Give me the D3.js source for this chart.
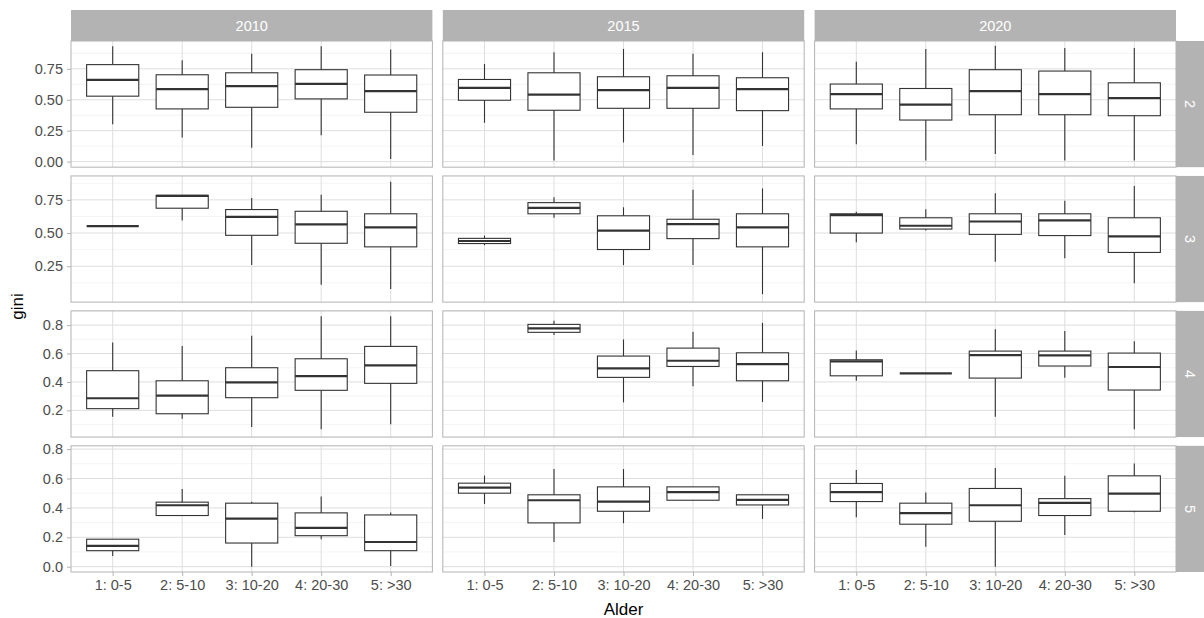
<!DOCTYPE html>
<html lang="en">
<head>
    <meta charset="UTF-8">
    <title>gini by Alder</title>
    <style>
        body { margin: 0; background: #fff; }
        text { font-family: "Liberation Sans", Arial, sans-serif; }
    </style>
</head>
<body>
<div id="chart"></div>

<script src="https://d3js.org/d3.v7.min.js"></script>

<script>
    // facets
    var years = ["2010", "2015", "2020"];
    var groups = ["2", "3", "4", "5"];
    var ages = ["1: 0-5", "2: 5-10", "3: 10-20", "4: 20-30", "5: >30"];

    // y scale per row (free scales), ticks and label format
    var yDomains = [[-0.045, 0.975], [-0.02, 0.93], [0.012, 0.9], [-0.036, 0.822]];
    var yTicks = [[0, 0.25, 0.5, 0.75], [0.25, 0.5, 0.75], [0.2, 0.4, 0.6, 0.8], [0, 0.2, 0.4, 0.6, 0.8]];
    var yFormats = [".2f", ".2f", ".1f", ".1f"];

    // box stats per age group: [lower whisker, q1, median, q3, upper whisker]
    var box2010 = [
        [[0.301, 0.529, 0.661, 0.784, 0.932], [0.195, 0.426, 0.586, 0.702, 0.819], [0.111, 0.439, 0.610, 0.718, 0.871], [0.214, 0.507, 0.629, 0.743, 0.932], [0.021, 0.399, 0.570, 0.700, 0.906]],
        [[0.552, 0.552, 0.552, 0.552, 0.552], [0.595, 0.687, 0.780, 0.784, 0.784], [0.259, 0.483, 0.622, 0.677, 0.764], [0.110, 0.423, 0.565, 0.664, 0.789], [0.078, 0.396, 0.543, 0.645, 0.886]],
        [[0.155, 0.212, 0.285, 0.479, 0.678], [0.141, 0.176, 0.303, 0.408, 0.652], [0.083, 0.289, 0.397, 0.500, 0.725], [0.067, 0.341, 0.441, 0.563, 0.863], [0.102, 0.390, 0.517, 0.650, 0.863]],
        [[0.073, 0.109, 0.141, 0.187, 0.187], [0.348, 0.348, 0.418, 0.439, 0.529], [0.000, 0.161, 0.327, 0.432, 0.441], [0.187, 0.211, 0.264, 0.366, 0.477], [0.005, 0.109, 0.168, 0.352, 0.368]]
    ];
    var box2015 = [
        [[0.314, 0.496, 0.596, 0.664, 0.789], [0.008, 0.415, 0.542, 0.718, 0.884], [0.155, 0.431, 0.578, 0.686, 0.911], [0.054, 0.431, 0.596, 0.694, 0.871], [0.127, 0.412, 0.586, 0.678, 0.884]],
        [[0.408, 0.421, 0.440, 0.460, 0.481], [0.615, 0.645, 0.690, 0.729, 0.769], [0.259, 0.376, 0.518, 0.630, 0.694], [0.259, 0.458, 0.567, 0.604, 0.826], [0.040, 0.396, 0.543, 0.645, 0.836]],
        [null, [0.730, 0.749, 0.777, 0.805, 0.830], [0.256, 0.432, 0.495, 0.582, 0.699], [0.369, 0.509, 0.549, 0.638, 0.753], [0.259, 0.408, 0.526, 0.605, 0.816]],
        [[0.427, 0.500, 0.538, 0.568, 0.620], [0.168, 0.298, 0.452, 0.489, 0.664], [0.296, 0.377, 0.443, 0.543, 0.664], [0.452, 0.452, 0.507, 0.543, 0.543], [0.325, 0.420, 0.455, 0.489, 0.489]]
    ];
    var box2020 = [
        [[0.141, 0.426, 0.545, 0.627, 0.808], [0.008, 0.336, 0.461, 0.591, 0.911], [0.062, 0.379, 0.570, 0.743, 0.936], [0.008, 0.379, 0.545, 0.732, 0.919], [0.008, 0.371, 0.513, 0.637, 0.919]],
        [[0.431, 0.500, 0.635, 0.645, 0.660], [0.520, 0.530, 0.555, 0.615, 0.679], [0.284, 0.490, 0.587, 0.645, 0.799], [0.311, 0.481, 0.595, 0.645, 0.744], [0.122, 0.354, 0.475, 0.615, 0.854]],
        [[0.408, 0.443, 0.545, 0.556, 0.622], [0.460, 0.460, 0.460, 0.460, 0.460], [0.155, 0.427, 0.589, 0.617, 0.770], [0.429, 0.512, 0.587, 0.617, 0.758], [0.067, 0.343, 0.505, 0.603, 0.687]],
        [[0.337, 0.443, 0.507, 0.566, 0.657], [0.136, 0.289, 0.364, 0.432, 0.504], [0.000, 0.309, 0.418, 0.532, 0.671], [0.216, 0.348, 0.434, 0.463, 0.618], [0.370, 0.377, 0.497, 0.618, 0.702]]
    ];
    var boxes = [box2010, box2015, box2020];

    var width = 1204, height = 618;
    var margin = {top: 41, right: 28, bottom: 46, left: 71};
    var stripH = 31;

    var svg = d3.select("#chart").append("svg")
        .attr("width", width)
        .attr("height", height);

    // panel positions
    var colScale = d3.scaleBand().domain(years)
        .range([margin.left, width - margin.right]).paddingInner(0.028);
    var rowScale = d3.scaleBand().domain(groups)
        .range([margin.top, height - margin.bottom]).paddingInner(0.065);
    var pw = colScale.bandwidth(), ph = rowScale.bandwidth();

    var x = d3.scalePoint().domain(ages).range([0, pw]).padding(0.6);
    var boxW = x.step() * 0.75;

    // top strips
    years.forEach(function (yr) {
        var g = svg.append("g").attr("transform", "translate(" + colScale(yr) + "," + (margin.top - stripH) + ")");
        g.append("rect").attr("width", pw).attr("height", stripH).attr("fill", "#b3b3b3");
        g.append("text").attr("x", pw / 2).attr("y", stripH / 2)
            .attr("text-anchor", "middle").attr("dominant-baseline", "central")
            .attr("font-size", 14.5).attr("fill", "#ffffff").text(yr);
    });

    // right strips
    groups.forEach(function (gr) {
        var g = svg.append("g").attr("transform", "translate(" + (width - margin.right) + "," + rowScale(gr) + ")");
        g.append("rect").attr("width", margin.right).attr("height", ph).attr("fill", "#b3b3b3");
        g.append("text").attr("transform", "translate(" + (margin.right / 2) + "," + (ph / 2) + ") rotate(90)")
            .attr("text-anchor", "middle").attr("dominant-baseline", "central")
            .attr("font-size", 14.5).attr("fill", "#ffffff").text(gr);
    });

    groups.forEach(function (gr, ri) {
        var y = d3.scaleLinear().domain(yDomains[ri]).range([ph, 0]);
        var ticks = yTicks[ri];
        var step = ticks[1] - ticks[0];
        var minor = [];
        for (var t = ticks[0] - step / 2; t <= yDomains[ri][1]; t += step) {
            if (t >= yDomains[ri][0]) minor.push(t);
        }

        years.forEach(function (yr, ci) {
            var p = svg.append("g").attr("transform", "translate(" + colScale(yr) + "," + rowScale(gr) + ")");
            p.append("rect").attr("width", pw).attr("height", ph).attr("fill", "#fff");

            // grid
            p.selectAll(".minor").data(minor).enter().append("line")
                .attr("x1", 0).attr("x2", pw)
                .attr("y1", function (d) { return y(d); }).attr("y2", function (d) { return y(d); })
                .attr("stroke", "#ececec").attr("stroke-width", 0.6);
            p.selectAll(".major").data(ticks).enter().append("line")
                .attr("x1", 0).attr("x2", pw)
                .attr("y1", function (d) { return y(d); }).attr("y2", function (d) { return y(d); })
                .attr("stroke", "#dedede").attr("stroke-width", 1);
            p.selectAll(".vmajor").data(ages).enter().append("line")
                .attr("x1", function (d) { return x(d); }).attr("x2", function (d) { return x(d); })
                .attr("y1", 0).attr("y2", ph)
                .attr("stroke", "#dedede").attr("stroke-width", 1);

            // boxplots
            var data = boxes[ci][ri].map(function (s, i) { return {age: ages[i], s: s}; })
                .filter(function (d) { return d.s; });
            var b = p.selectAll(".box").data(data).enter().append("g");
            b.append("line")
                .attr("x1", function (d) { return x(d.age); }).attr("x2", function (d) { return x(d.age); })
                .attr("y1", function (d) { return y(d.s[0]); }).attr("y2", function (d) { return y(d.s[4]); })
                .attr("stroke", "#333333").attr("stroke-width", 1.1);
            b.append("rect")
                .attr("x", function (d) { return x(d.age) - boxW / 2; })
                .attr("width", boxW)
                .attr("y", function (d) { return y(d.s[3]); })
                .attr("height", function (d) { return y(d.s[1]) - y(d.s[3]); })
                .attr("fill", "#fff").attr("stroke", "#333333").attr("stroke-width", 1.1);
            b.append("line")
                .attr("x1", function (d) { return x(d.age) - boxW / 2; })
                .attr("x2", function (d) { return x(d.age) + boxW / 2; })
                .attr("y1", function (d) { return y(d.s[2]); }).attr("y2", function (d) { return y(d.s[2]); })
                .attr("stroke", "#333333").attr("stroke-width", 2.2);

            // border
            p.append("rect").attr("width", pw).attr("height", ph)
                .attr("fill", "none").attr("stroke", "#b3b3b3").attr("stroke-width", 1);

            // y axis on first column
            if (ci === 0) {
                var ax = p.append("g").call(d3.axisLeft(y).tickValues(ticks).tickFormat(d3.format(yFormats[ri])).tickSize(4).tickPadding(4));
                ax.select(".domain").remove();
                ax.selectAll("line").attr("stroke", "#b3b3b3");
                ax.selectAll("text").attr("font-size", 14.5).attr("fill", "#4d4d4d")
                    .attr("font-family", "Liberation Sans, Arial, sans-serif");
            }
            // x axis on last row
            if (ri === groups.length - 1) {
                var bx = p.append("g").attr("transform", "translate(0," + ph + ")")
                    .call(d3.axisBottom(x).tickSize(4).tickPadding(4));
                bx.select(".domain").remove();
                bx.selectAll("line").attr("stroke", "#b3b3b3");
                bx.selectAll("text").attr("font-size", 14.5).attr("fill", "#4d4d4d")
                    .attr("font-family", "Liberation Sans, Arial, sans-serif");
            }
        });
    });

    // axis titles
    svg.append("text")
        .attr("x", colScale("2015") + pw / 2).attr("y", 615)
        .attr("text-anchor", "middle").attr("font-size", 17).attr("fill", "#000")
        .text("Alder");
    svg.append("text")
        .attr("transform", "translate(23," + ((margin.top + height - margin.bottom) / 2) + ") rotate(-90)")
        .attr("text-anchor", "middle").attr("font-size", 17).attr("fill", "#000")
        .text("gini");
</script>

</body>
</html>
